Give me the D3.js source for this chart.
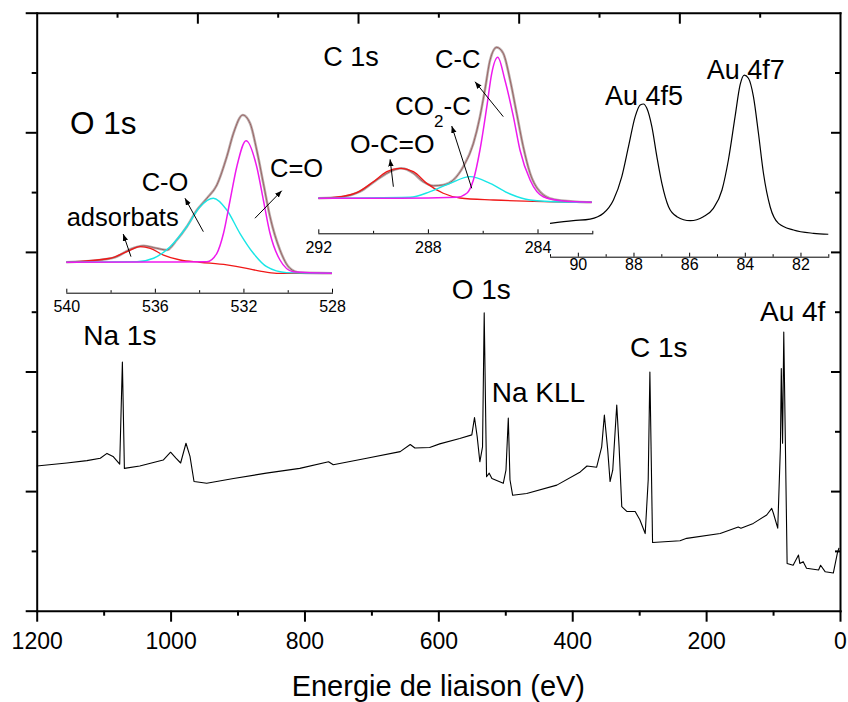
<!DOCTYPE html>
<html><head><meta charset="utf-8">
<script src="https://cdn.jsdelivr.net/npm/d3@7"></script>
<style>
html,body{margin:0;padding:0;background:#fff;}
svg{display:block;font-family:"Liberation Sans",Arial,Helvetica,sans-serif;}
</style></head><body>
<svg id="chart" width="848" height="702"></svg>
<script>
// ---------- main survey spectrum [binding energy eV, intensity a.u.] ----------
const survey = [[1200,2.42],[1155,2.47],[1125,2.51],[1105,2.55],[1095,2.63],[1086,2.58],[1076,2.45],[1072,4.16],[1069,2.38],[1046,2.42],[1011,2.52],[1000,2.65],[992,2.55],[985,2.47],[977,2.80],[971,2.58],[965,2.16],[946,2.13],[906,2.21],[857,2.30],[807,2.38],[764,2.49],[757,2.44],[707,2.55],[657,2.66],[642,2.78],[635,2.72],[613,2.73],[598,2.79],[568,2.88],[550,2.94],[546,3.23],[542,2.91],[538,2.49],[534,2.74],[531.5,4.98],[528,2.24],[524,2.30],[520,2.21],[503,2.13],[499,2.35],[495.5,3.22],[493,2.19],[489,1.93],[468,1.96],[423,2.10],[388,2.32],[378,2.42],[363.5,2.40],[356,2.74],[352,3.27],[347,2.69],[343.5,2.16],[339.5,2.35],[333.5,3.44],[330,2.74],[326,1.74],[318.5,1.66],[306,1.66],[299,1.52],[291,1.29],[286.5,2.19],[284,3.99],[280,1.14],[239,1.17],[229,1.21],[179,1.29],[152,1.40],[148,1.38],[129.5,1.46],[109.5,1.60],[102,1.71],[99.5,1.63],[93,1.38],[89,2.74],[87.7,4.05],[85.8,2.80],[84,4.66],[79,0.79],[70,0.76],[62,0.93],[60,0.79],[55,0.82],[50,0.71],[32,0.68],[29,0.76],[22,0.65],[10,0.63],[4,0.96],[1.5,1.05]];
const xMajor = [1200,1000,800,600,400,200,0];
const xMinor = [1100,900,700,500,300,100];
const yMajor = [0,2,4,6,8,10];
const yMinor = [1,3,5,7,9];
const topMajor = [960,720,480,240];
const topMinor = [1080,840,600,360,120];
const surveyLabels = [["Na 1s",1072],["O 1s",531.5],["Na KLL",495.5],["C 1s",284],["Au 4f",84]];

// ---------- O 1s inset ----------
const o1sEnvelope = [[540.0,8.6],[538.47,10.0],[537.71,12.1],[537.11,16.7],[536.51,18.9],[535.91,17.3],[535.46,16.25],[535.01,22.5],[534.56,30.8],[534.10,41.25],[533.65,48.6],[533.20,56.9],[532.75,74.6],[532.45,89.2],[532.03,100.6],[531.70,95.4],[531.40,78.75],[531.10,57.9],[530.80,37.1],[530.35,16.25],[529.90,4.8],[529.45,2.1],[528.0,1.7]];
const o1sAdsorbats = [[540.0,8.6],[538.02,11.1],[537.26,15.2],[536.66,18.3],[536.21,17.3],[535.61,13.1],[534.86,10.0],[533.96,8.6],[532.75,6.9],[531.85,4.8],[531.25,3.1],[530.50,1.7],[528.0,1.7]];
const o1sCO = [[540.0,8.6],[536.81,8.9],[536.06,11.1],[535.31,18.3],[534.56,30.8],[533.96,43.3],[533.36,48.6],[532.75,41.25],[532.16,26.7],[531.55,14.2],[530.95,5.8],[530.05,2.1],[528.0,1.7]];
const o1sCdO = [[540.0,8.6],[536.2,8.75],[533.65,8.9],[533.20,14.2],[532.90,26.7],[532.60,47.5],[532.30,68.3],[531.88,84.6],[531.40,68.3],[531.10,47.5],[530.80,26.7],[530.35,10.0],[529.75,2.7],[528.0,1.7]];
const o1sMajor = [540,536,532,528];
const o1sMinor = [538,534,530];

// ---------- C 1s inset ----------
const c1sEnvelope = [[292.0,3.56],[291.09,4.56],[290.48,7.69],[289.87,15.0],[289.38,20.2],[288.96,22.3],[288.53,19.2],[288.17,13.9],[287.80,11.4],[287.44,11.9],[287.07,15.0],[286.71,23.3],[286.34,37.9],[286.10,54.6],[285.92,71.25],[285.73,90.0],[285.49,97.9],[285.25,94.2],[285.00,77.5],[284.76,56.7],[284.52,35.8],[284.27,19.2],[283.91,7.7],[283.42,2.9],[282.57,1.4],[282.02,1.06]];
const c1sOCO = [[292.0,3.56],[291.21,4.56],[290.60,7.06],[289.99,13.9],[289.50,20.2],[289.02,22.3],[288.53,20.2],[288.04,12.9],[287.44,6.7],[286.83,3.75],[285.61,2.5],[283.79,1.44],[282.02,1.06]];
const c1sCO2C = [[292.0,3.56],[288.65,4.2],[287.92,7.7],[287.19,12.9],[286.46,17.1],[285.73,12.9],[285.00,6.25],[284.27,2.5],[283.06,1.25],[282.02,1.06]];
const c1sCC = [[292.0,3.56],[289.02,3.56],[286.95,4.2],[286.58,6.7],[286.34,15.0],[286.10,33.75],[285.85,60.8],[285.67,81.7],[285.45,91.7],[285.19,77.5],[284.88,54.6],[284.64,33.75],[284.27,15.0],[283.79,4.56],[283.06,1.9],[282.02,1.06]];
const c1sMajor = [292,288,284];
const c1sMinor = [290,286,282];

// ---------- Au 4f inset ----------
const au4f = [[91.0,10.4],[90.16,12.1],[89.56,13.1],[89.08,16.7],[88.72,25.0],[88.42,39.6],[88.18,58.3],[87.94,77.1],[87.76,84.4],[87.64,85.0],[87.52,82.3],[87.34,70.8],[87.16,52.1],[86.98,35.4],[86.74,20.8],[86.44,14.6],[85.96,12.1],[85.49,14.6],[85.13,19.8],[84.82,31.25],[84.59,50.0],[84.35,77.1],[84.17,96.9],[84.02,103.1],[83.87,101.1],[83.69,89.6],[83.51,66.7],[83.33,41.7],[83.09,20.8],[82.79,10.4],[82.25,6.25],[81.53,4.2],[81.0,3.6]];
const auMajor = [90,88,86,84,82];
const auMinor = [91,89,87,85,83,81];

// ======================================================================
const svg = d3.select("#chart");
const FONT = '"Liberation Sans",Arial,Helvetica,sans-serif';

svg.append("defs").append("marker")
  .attr("id","arr").attr("markerUnits","userSpaceOnUse")
  .attr("markerWidth",8).attr("markerHeight",6)
  .attr("refX",7).attr("refY",3).attr("orient","auto")
  .append("path").attr("d","M0,0.3 L7,3 L0,5.7 Z").attr("fill","#000");

const x = d3.scaleLinear().domain([1200,0]).range([36.7,840]);
const y = d3.scaleLinear().domain([0,10]).range([610.7,12.7]);

function styleAxis(g, w){
  g.select(".domain").attr("stroke","#000").attr("stroke-width",w).attr("stroke-linecap","square");
  g.selectAll(".tick line").attr("stroke","#000").attr("stroke-width",w);
}

// bottom axis
const gB = svg.append("g").attr("transform",`translate(0,${y(0)})`)
  .call(d3.axisBottom(x).tickValues(xMajor).tickSize(11).tickSizeOuter(0).tickFormat(d3.format("d")));
styleAxis(gB,2);
gB.selectAll(".tick text").attr("y",38.6).attr("dy",null)
  .attr("font-size","23px").attr("font-family",FONT).attr("fill","#000");
const gBm = svg.append("g").attr("transform",`translate(0,${y(0)})`)
  .call(d3.axisBottom(x).tickValues(xMinor).tickSize(5).tickFormat(""));
gBm.select(".domain").remove(); styleAxis(gBm,2);

// top axis (inward ticks)
const gT = svg.append("g").attr("transform",`translate(0,${y(10)})`)
  .call(d3.axisTop(x).tickValues(topMajor).tickSize(-11).tickSizeOuter(0).tickFormat(""));
styleAxis(gT,2);
const gTm = svg.append("g").attr("transform",`translate(0,${y(10)})`)
  .call(d3.axisTop(x).tickValues(topMinor).tickSize(-5).tickFormat(""));
gTm.select(".domain").remove(); styleAxis(gTm,2);

// left axis (outward ticks, no labels)
const gL = svg.append("g").attr("transform",`translate(${x(1200)},0)`)
  .call(d3.axisLeft(y).tickValues(yMajor).tickSize(11).tickSizeOuter(0).tickFormat(""));
styleAxis(gL,2);
const gLm = svg.append("g").attr("transform",`translate(${x(1200)},0)`)
  .call(d3.axisLeft(y).tickValues(yMinor).tickSize(5).tickFormat(""));
gLm.select(".domain").remove(); styleAxis(gLm,2);

// right axis (inward ticks)
const gR = svg.append("g").attr("transform",`translate(${x(0)},0)`)
  .call(d3.axisRight(y).tickValues(yMajor.slice(1,-1)).tickSize(-9).tickSizeOuter(0).tickFormat(""));
styleAxis(gR,2);
const gRm = svg.append("g").attr("transform",`translate(${x(0)},0)`)
  .call(d3.axisRight(y).tickValues(yMinor).tickSize(-5).tickFormat(""));
gRm.select(".domain").remove(); styleAxis(gRm,2);

// survey line
svg.append("path").datum(survey)
  .attr("fill","none").attr("stroke","#000").attr("stroke-width",1.1).attr("stroke-linejoin","round")
  .attr("d", d3.line().x(d=>x(d[0])).y(d=>y(d[1])));

// survey labels (text positions)
const surveyLabelPos = {"Na 1s":[83.3,345],"O 1s":[451.7,298.5],"Na KLL":[491.7,401.7],"C 1s":[630,357.3],"Au 4f":[760,320.7]};
surveyLabels.forEach(([t])=>{
  const p = surveyLabelPos[t];
  svg.append("text").attr("x",p[0]).attr("y",p[1]).attr("font-size","28px")
    .attr("font-family",FONT).attr("fill","#000").text(t);
});

// axis title
svg.append("text").attr("x",(x(1200)+x(0))/2).attr("y",696).attr("text-anchor","middle")
  .attr("font-size","29px").attr("font-family",FONT).attr("fill","#000")
  .text("Energie de liaison (eV)");

// ---------- inset helper ----------
function inset(cfg){
  const ix = d3.scaleLinear().domain(cfg.xDom).range(cfg.xRange);
  const iy = d3.scaleLinear().domain([0,100]).range(cfg.yRange);
  const g = svg.append("g");
  const ax = g.append("g").attr("transform",`translate(0,${cfg.axisY})`)
    .call(d3.axisBottom(ix).tickValues(cfg.major).tickSize(-4).tickSizeOuter(0).tickFormat(d3.format("d")));
  styleAxis(ax,1);
  ax.selectAll(".tick text").attr("y",cfg.labelDy).attr("dy",null)
    .attr("font-size","16px").attr("font-family",FONT).attr("fill","#000");
  const axm = g.append("g").attr("transform",`translate(0,${cfg.axisY})`)
    .call(d3.axisBottom(ix).tickValues(cfg.minor).tickSize(-2.5).tickFormat(""));
  axm.select(".domain").remove(); styleAxis(axm,1);
  const line = d3.line().x(d=>ix(d[0])).y(d=>iy(d[1])).curve(d3.curveMonotoneX);
  cfg.series.forEach(s=>{
    g.append("path").datum(s.data).attr("fill","none")
      .attr("stroke",s.color).attr("stroke-width",s.width).attr("stroke-linejoin","round")
      .attr("d",line);
  });
  (cfg.arrows||[]).forEach(a=>{
    g.append("line").attr("x1",ix(a[0][0])).attr("y1",iy(a[0][1]))
      .attr("x2",ix(a[1][0])).attr("y2",iy(a[1][1]))
      .attr("stroke","#000").attr("stroke-width",1).attr("marker-end","url(#arr)");
  });
  return g;
}

function label(t, px, py, fs){
  return svg.append("text").attr("x",px).attr("y",py).attr("font-size",fs+"px")
    .attr("font-family",FONT).attr("fill","#000").text(t);
}

// O 1s inset
inset({
  xDom:[540,528], xRange:[66.3,332], yRange:[276,116], axisY:292.7, labelDy:19,
  major:o1sMajor, minor:o1sMinor,
  series:[
    {data:o1sEnvelope, color:"#bcaeae", width:2.6},
    {data:o1sEnvelope, color:"#8a4444", width:0.7},
    {data:o1sAdsorbats, color:"#f01818", width:1.3},
    {data:o1sCO, color:"#19e6e6", width:1.4},
    {data:o1sCdO, color:"#ee1aee", width:1.5}
  ],
  arrows:[[[537.08,12.1],[537.43,26.25]],[[533.81,27.7],[534.64,48.6]],[[531.48,36.1],[530.27,53.3]]]
});
label("O 1s",70,134.3,31.5);
label("adsorbats",66.7,226,25.5);
label("C-O",141.7,191,25.5);
label("C=O",270,176.7,25.5);

// C 1s inset
inset({
  xDom:[292,282], xRange:[318.3,592.3], yRange:[204,44], axisY:233.3, labelDy:19.7,
  major:c1sMajor, minor:c1sMinor,
  series:[
    {data:c1sEnvelope, color:"#bcaeae", width:2.6},
    {data:c1sEnvelope, color:"#8a4444", width:0.7},
    {data:c1sOCO, color:"#f01818", width:1.3},
    {data:c1sCO2C, color:"#19e6e6", width:1.4},
    {data:c1sCC, color:"#ee1aee", width:1.5}
  ],
  arrows:[[[289.26,10.8],[289.38,27.9]],[[286.40,9.8],[287.13,48.75]],[[285.25,54.6],[286.28,76.4]]]
});
label("C 1s",323.3,66,27);
label("C-C",435,67.7,25.5);
const co2 = svg.append("text").attr("x",395).attr("y",115).attr("font-size","26px")
  .attr("font-family",FONT).attr("fill","#000");
co2.append("tspan").text("CO");
co2.append("tspan").attr("dy",12.3).attr("font-size","17px").text("2");
co2.append("tspan").attr("dy",-12.3).text("-C");
label("O-C=O",350,152.7,26.5);

// Au 4f inset
inset({
  xDom:[91,81], xRange:[550,828.3], yRange:[240,80], axisY:256.7, labelDy:13.3,
  major:auMajor, minor:auMinor,
  series:[{data:au4f, color:"#000", width:1.2}]
});
label("Au 4f5",605,105,27);
label("Au 4f7",706.7,79,27);
</script></body></html>
